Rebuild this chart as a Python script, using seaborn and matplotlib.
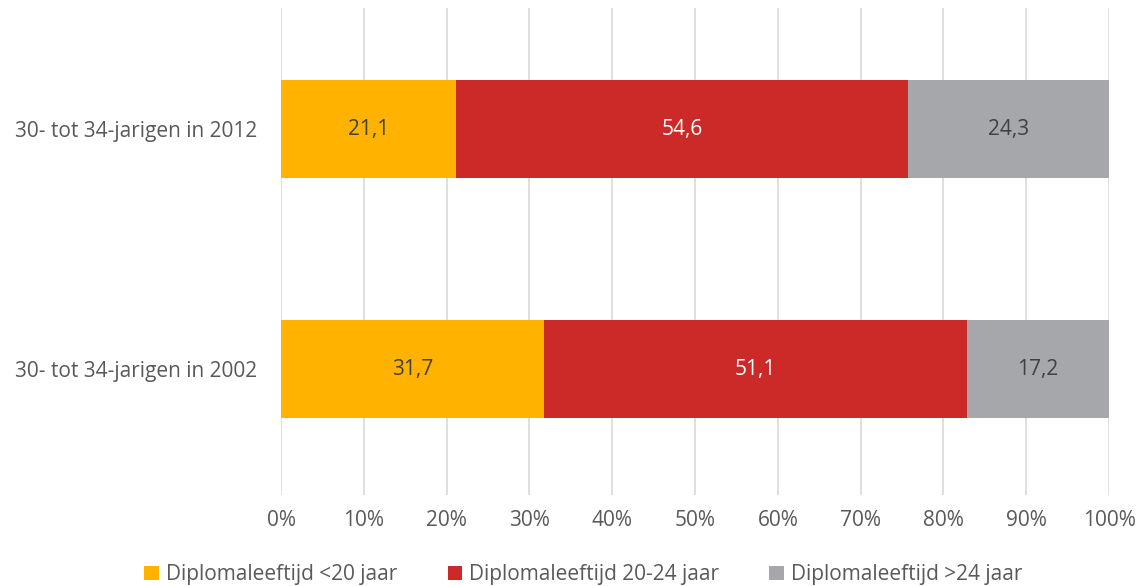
import matplotlib
matplotlib.use("Agg")
import matplotlib.pyplot as plt
from matplotlib.patches import Patch
from matplotlib.ticker import FuncFormatter
import seaborn as sns
import pandas as pd
import numpy as np

categories = ["30- tot 34-jarigen in 2012", "30- tot 34-jarigen in 2002"]
series_names = ["Diplomaleeftijd <20 jaar", "Diplomaleeftijd 20-24 jaar", "Diplomaleeftijd >24 jaar"]
lt20 = [21.1, 31.7]
d20_24 = [54.6, 51.1]
gt24 = [24.3, 17.2]
colors = ["#FFB300", "#CC2A29", "#A5A7AB"]
label_colors = ["#404040", "#FFFFFF", "#404040"]

sns.set_theme(style="white")
plt.rcParams["font.family"] = ["Open Sans", "DejaVu Sans"]
txt = "#595959"
fs = 15

fig = plt.figure(figsize=(11.41, 5.86), dpi=100)
ax = fig.add_axes([0.2463, 0.1553, 0.972 - 0.2463, 0.9863 - 0.1553])

vals = np.array([lt20, d20_24, gt24])
cum = np.cumsum(vals, axis=0)

# draw cumulative bars from largest to smallest so that they stack visually
for i in range(2, -1, -1):
    df = pd.DataFrame({"cat": categories, "value": cum[i]})
    sns.barplot(data=df, x="value", y="cat", orient="h", color=colors[i],
                width=0.408, saturation=1, ax=ax, zorder=3, linewidth=0)

for i in range(3):
    for j, c in enumerate(categories):
        center = cum[i][j] - vals[i][j] / 2
        ax.text(center, j, f"{vals[i][j]:.1f}".replace(".", ","), ha="center", va="center",
                fontsize=fs, color=label_colors[i], zorder=5)

ax.set_xlim(0, 100)
ax.set_ylim(1.523, -0.504)
ax.set_xticks(np.arange(0, 101, 10))
ax.xaxis.set_major_formatter(FuncFormatter(lambda v, p: f"{int(v)}%"))
ax.grid(axis="x", color="#D9D9D9", linewidth=1.2, zorder=0)
ax.grid(axis="y", visible=False)
for s in ax.spines.values():
    s.set_visible(False)
ax.set_xlabel("")
ax.set_ylabel("")
ax.tick_params(axis="x", labelsize=fs, colors=txt, length=0, pad=11)
ax.tick_params(axis="y", labelsize=fs, colors=txt, length=0, pad=17)

handles = [Patch(facecolor=colors[i], edgecolor="none", label=series_names[i]) for i in range(3)]
leg = fig.legend(handles=handles, loc="center", bbox_to_anchor=(0.5114, 0.019), ncol=3,
                 frameon=False, fontsize=fs, handlelength=0.7, handleheight=0.7,
                 handletextpad=0.35, columnspacing=2.4, borderpad=0, borderaxespad=0)
for t in leg.get_texts():
    t.set_color(txt)

fig.savefig("out.png", dpi=100)
